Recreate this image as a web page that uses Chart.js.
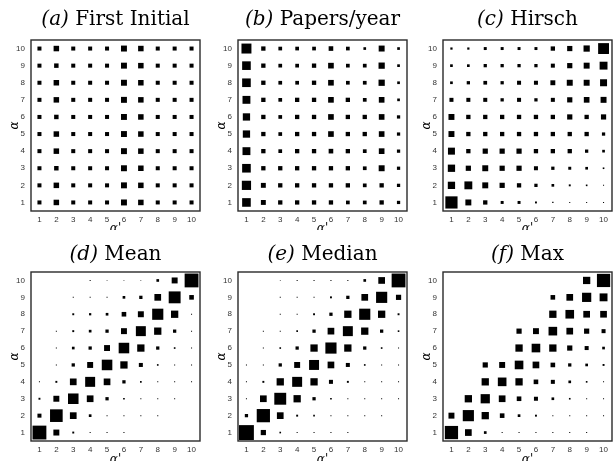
<!DOCTYPE html>
<html>
<head>
<meta charset="utf-8">
<script src="https://cdn.jsdelivr.net/npm/chart.js@4.4.1/dist/chart.umd.min.js"></script>
<style>
html, body { margin: 0; padding: 0; background: #fff; }
#wrap { position: relative; width: 613px; height: 461px; overflow: hidden; }
#wrap canvas { position: absolute; }
</style>
</head>
<body>
<div id="wrap">
  <canvas id="pa" width="204" height="230" style="left:0;top:0"></canvas>
  <canvas id="pb" width="204" height="230" style="left:207px;top:0"></canvas>
  <canvas id="pc" width="201" height="230" style="left:412px;top:0"></canvas>
  <canvas id="pd" width="204" height="231" style="left:0;top:230px"></canvas>
  <canvas id="pe" width="204" height="231" style="left:207px;top:230px"></canvas>
  <canvas id="pf" width="201" height="231" style="left:412px;top:230px"></canvas>
</div>
<script>
// axis categories (alpha' across, alpha up)
const alphaPrime = [1, 2, 3, 4, 5, 6, 7, 8, 9, 10];
const alphaLevels = [10, 9, 8, 7, 6, 5, 4, 3, 2, 1]; // row order of the matrices below (top row first)
const tickLabels = ['1', '2', '3', '4', '5', '6', '7', '8', '9', '10'];

// matrix weights 0-100, rows = alpha 10 .. 1, columns = alpha' 1 .. 10
const firstInitial = [
  [27, 37, 27, 27, 27, 40, 37, 27, 27, 27],
  [27, 30, 27, 27, 27, 40, 37, 27, 27, 27],
  [27, 37, 27, 27, 27, 40, 37, 27, 27, 27],
  [27, 37, 27, 27, 27, 40, 37, 27, 27, 27],
  [27, 30, 27, 27, 27, 40, 37, 27, 27, 27],
  [27, 37, 27, 27, 27, 40, 37, 27, 27, 27],
  [27, 37, 27, 27, 27, 40, 37, 27, 27, 27],
  [27, 30, 27, 27, 27, 40, 37, 27, 27, 27],
  [27, 37, 27, 27, 27, 40, 37, 27, 27, 27],
  [27, 37, 27, 27, 27, 40, 37, 27, 27, 27]
];
const papersPerYear = [
  [67, 29, 25, 25, 25, 31, 25, 18, 40, 18],
  [58, 29, 25, 25, 29, 38, 25, 25, 42, 18],
  [58, 29, 25, 25, 29, 38, 25, 25, 42, 18],
  [53, 29, 25, 29, 29, 38, 29, 25, 38, 18],
  [49, 29, 25, 29, 29, 38, 29, 29, 38, 22],
  [49, 29, 25, 29, 29, 38, 29, 29, 38, 22],
  [53, 29, 25, 29, 29, 31, 29, 25, 38, 22],
  [58, 29, 29, 29, 29, 29, 29, 25, 40, 22],
  [62, 33, 29, 29, 29, 29, 29, 25, 29, 22],
  [58, 33, 29, 29, 29, 29, 25, 25, 29, 22]
];
const hirsch = [
  [15, 15, 20, 20, 20, 20, 29, 35, 42, 73],
  [18, 18, 22, 22, 22, 22, 27, 35, 40, 53],
  [18, 22, 25, 22, 27, 27, 33, 40, 40, 47],
  [27, 27, 27, 22, 27, 22, 27, 35, 38, 40],
  [40, 29, 29, 29, 29, 29, 29, 35, 29, 35],
  [40, 29, 29, 29, 29, 29, 29, 29, 29, 22],
  [47, 29, 35, 35, 35, 29, 29, 29, 22, 18],
  [49, 35, 40, 35, 35, 27, 22, 20, 18, 11],
  [49, 53, 40, 35, 29, 22, 18, 13, 11, 7],
  [82, 40, 29, 20, 20, 13, 9, 7, 7, 7]
];
const meanVals = [
  [0, 0, 0, 7, 5, 5, 5, 18, 40, 93],
  [0, 0, 7, 7, 7, 18, 22, 45, 80, 31],
  [0, 0, 13, 15, 18, 31, 40, 75, 49, 7],
  [0, 7, 13, 18, 22, 40, 67, 49, 22, 7],
  [0, 7, 18, 22, 40, 71, 49, 22, 11, 7],
  [0, 7, 22, 40, 71, 49, 27, 11, 7, 7],
  [7, 13, 45, 67, 45, 22, 11, 7, 7, 7],
  [13, 40, 71, 45, 22, 11, 7, 7, 7, 0],
  [27, 85, 45, 18, 7, 7, 7, 7, 0, 0],
  [93, 40, 13, 7, 7, 7, 0, 0, 0, 0]
];
const medianVals = [
  [0, 0, 5, 7, 7, 7, 7, 18, 45, 93],
  [0, 0, 7, 7, 7, 13, 22, 45, 75, 35],
  [0, 0, 7, 7, 13, 22, 49, 75, 49, 13],
  [0, 7, 7, 11, 22, 45, 67, 49, 22, 11],
  [0, 7, 11, 22, 49, 75, 49, 22, 11, 7],
  [7, 7, 22, 40, 67, 45, 27, 11, 7, 7],
  [7, 13, 49, 67, 49, 27, 13, 7, 7, 7],
  [7, 45, 80, 49, 22, 11, 7, 7, 7, 7],
  [22, 89, 45, 13, 11, 7, 7, 7, 7, 0],
  [100, 35, 11, 7, 7, 7, 7, 0, 0, 0]
];
const maxVals = [
  [0, 0, 0, 0, 0, 0, 0, 0, 49, 89],
  [0, 0, 0, 0, 0, 0, 31, 45, 62, 53],
  [0, 0, 0, 0, 0, 0, 49, 58, 45, 45],
  [0, 0, 0, 0, 35, 40, 58, 45, 35, 27],
  [0, 0, 0, 0, 49, 58, 49, 35, 27, 18],
  [0, 0, 35, 40, 58, 45, 31, 22, 18, 13],
  [0, 0, 49, 58, 49, 31, 27, 18, 11, 7],
  [0, 49, 62, 45, 31, 27, 18, 11, 7, 7],
  [40, 75, 49, 31, 18, 13, 7, 7, 7, 7],
  [89, 45, 18, 7, 7, 7, 7, 7, 7, 0]
];

const panels = [
  { id: 'pa', tag: '(a)', name: 'First Initial', values: firstInitial, top: 40, right: 4, xh: 19, gap: 15 },
  { id: 'pb', tag: '(b)', name: 'Papers/year', values: papersPerYear, top: 40, right: 4, xh: 19, gap: 15 },
  { id: 'pc', tag: '(c)', name: 'Hirsch', values: hirsch, top: 40, right: 1, xh: 19, gap: 15 },
  { id: 'pd', tag: '(d)', name: 'Mean', values: meanVals, top: 42, right: 4, xh: 20, gap: 12 },
  { id: 'pe', tag: '(e)', name: 'Median', values: medianVals, top: 42, right: 4, xh: 20, gap: 12 },
  { id: 'pf', tag: '(f)', name: 'Max', values: maxVals, top: 42, right: 1, xh: 20, gap: 12 }
];

const MAX_SIDE = 0.88; // biggest square as a share of one cell

// title "(a) Name" with italic tag, plus the box around the plot
const panelDeco = {
  id: 'panelDeco',
  afterDatasetsDraw(chart, args, opts) {
    const ctx = chart.ctx;
    const a = chart.chartArea;
    ctx.save();
    ctx.strokeStyle = '#2a2a2a';
    ctx.lineWidth = 1.4;
    ctx.strokeRect(a.left, a.top, a.right - a.left, a.bottom - a.top);

    const tagFont = 'italic 20px "DejaVu Serif"';
    const nameFont = '20px "DejaVu Serif"';
    ctx.font = tagFont;
    const w1 = ctx.measureText(opts.tag + ' ').width;
    ctx.font = nameFont;
    const w2 = ctx.measureText(opts.name).width;
    let x = (a.left + a.right) / 2 - (w1 + w2) / 2;
    const y = a.top - opts.gap;
    ctx.fillStyle = '#000';
    ctx.textBaseline = 'alphabetic';
    ctx.textAlign = 'left';
    ctx.font = tagFont;
    ctx.fillText(opts.tag + ' ', x, y);
    ctx.font = nameFont;
    ctx.fillText(opts.name, x + w1, y);
    ctx.restore();
  }
};

function buildPoints(values) {
  const pts = [];
  values.forEach((row, i) => {
    row.forEach((v, j) => {
      if (v > 0) pts.push({ x: alphaPrime[j], y: alphaLevels[i], v: v });
    });
  });
  return pts;
}

function tickFont() {
  return { family: '"Liberation Sans", Arial, sans-serif', size: 8 };
}

panels.forEach(p => {
  const ctx = document.getElementById(p.id);
  new Chart(ctx.getContext('2d'), {
    type: 'scatter',
    data: {
      datasets: [{
        data: buildPoints(p.values),
        pointStyle: 'rect',
        backgroundColor: '#000',
        borderWidth: 0,
        pointRadius: c => {
          const xs = c.chart.scales.x;
          const pitch = Math.abs(xs.getPixelForValue(2) - xs.getPixelForValue(1));
          return (c.raw.v / 100) * MAX_SIDE * pitch / Math.SQRT2;
        },
        pointHoverRadius: 0
      }]
    },
    options: {
      responsive: false,
      animation: false,
      events: [],
      layout: { padding: { top: p.top, right: p.right, left: 0, bottom: 0 } },
      plugins: {
        legend: { display: false },
        tooltip: { enabled: false },
        panelDeco: { tag: p.tag, name: p.name, gap: p.gap }
      },
      scales: {
        x: {
          type: 'linear',
          min: 0.5,
          max: 10.5,
          grid: { display: false, drawTicks: false },
          border: { display: false },
          afterBuildTicks: s => { s.ticks = alphaPrime.map(v => ({ value: v })); },
          afterFit: s => { s.height = p.xh; },
          ticks: {
            padding: 4,
            color: '#333',
            font: tickFont(),
            maxRotation: 0,
            autoSkip: false,
            callback: (v, i) => tickLabels[i]
          },
          title: {
            display: true,
            text: "\u03b1'",
            color: '#000',
            font: { family: '"DejaVu Serif", serif', style: 'italic', size: 12 },
            padding: { top: 0, bottom: -6 }
          }
        },
        y: {
          type: 'linear',
          min: 0.5,
          max: 10.5,
          grid: { display: false, drawTicks: false },
          border: { display: false },
          afterBuildTicks: s => { s.ticks = alphaPrime.map(v => ({ value: v })); },
          afterFit: s => { s.width = 31; },
          ticks: {
            padding: 6,
            color: '#333',
            font: tickFont(),
            autoSkip: false,
            callback: (v, i) => tickLabels[i]
          },
          title: {
            display: true,
            text: '\u03b1',
            color: '#000',
            font: { family: '"DejaVu Serif", serif', style: 'italic', size: 12 },
            padding: { top: 8, bottom: 0 }
          }
        }
      }
    },
    plugins: [panelDeco]
  });
});
</script>
</body>
</html>
